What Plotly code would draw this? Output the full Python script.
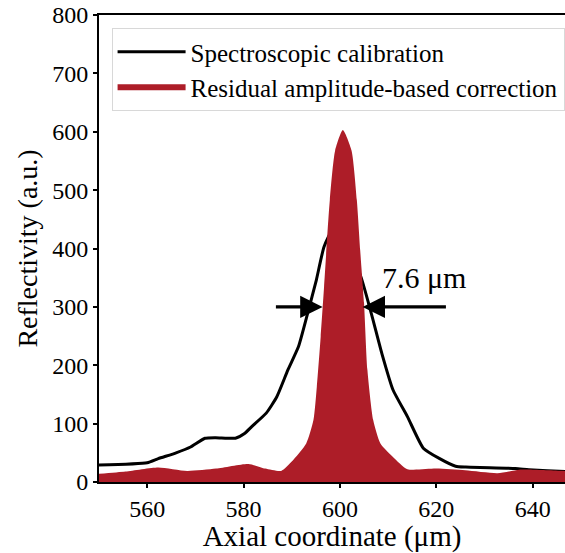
import plotly.graph_objects as go

# Spectroscopic calibration (black line)
calib_x = [550, 560, 562.3, 566, 569, 572, 574.2, 578.3, 580.2, 581.7, 584.7, 586.9, 589.2,
           591.4, 593.3, 595.1, 596.7, 598.6, 601.2, 604.2, 606.5, 608.7, 611, 614, 617.3,
           620.7, 624, 626.1, 636.4, 639.2, 646.8, 650]
calib_y = [29, 33, 40, 50, 60, 75, 76, 75, 83, 95, 118, 146, 192,
           232, 289, 346, 403, 433, 403, 355, 289, 220, 158, 112, 58,
           40, 27, 25.5, 23, 21, 18, 17]

# Residual amplitude-based correction (red filled)
resid_x = [550, 555.5, 562.3, 568.3, 574.3, 581, 584.5, 587.8, 590, 593, 594.5, 595.2, 596,
           596.7, 597.9, 599, 600.6, 602.4, 603.5, 604.2, 605, 605.7, 606.9, 608.4, 611, 614,
           620, 626, 632.7, 637.2, 640, 646.8, 650]
resid_y = [14, 18, 25, 19, 23, 31, 23, 19, 35, 66, 106, 163, 249,
           334, 483, 568, 603, 568, 483, 397, 306, 192, 106, 66, 43, 22,
           23, 20, 15, 21, 21, 19, 18]

x_ticks = [560, 580, 600, 620, 640]
y_ticks = [0, 100, 200, 300, 400, 500, 600, 700, 800]

FONT = "Liberation Serif"
RED = "#ad1d28"

fig = go.Figure()
fig.add_trace(go.Scatter(x=calib_x, y=calib_y, mode="lines",
                         line=dict(color="black", width=3, shape="spline", smoothing=0.5),
                         name="Spectroscopic calibration"))
fig.add_trace(go.Scatter(x=resid_x, y=resid_y, mode="none", fill="tozeroy",
                         fillcolor=RED, line=dict(shape="spline", smoothing=0.6),
                         name="Residual amplitude-based correction"))

# FWHM arrows
fig.add_annotation(x=596.4, y=300, ax=586.4, ay=300, xref="x", yref="y", axref="x", ayref="y",
                   showarrow=True, arrowhead=2, arrowsize=1.4, arrowwidth=3.2, arrowcolor="black", text="")
fig.add_annotation(x=604.7, y=300, ax=622.3, ay=300, xref="x", yref="y", axref="x", ayref="y",
                   showarrow=True, arrowhead=2, arrowsize=1.4, arrowwidth=3.2, arrowcolor="black", text="")
fig.add_annotation(x=617.5, y=351, xref="x", yref="y", text="7.6 μm", showarrow=False,
                   font=dict(family=FONT, size=30, color="black"))

fig.update_layout(
    width=565, height=553,
    margin=dict(l=99, r=0, t=15, b=71),
    plot_bgcolor="white", paper_bgcolor="white",
    font=dict(family=FONT, size=24, color="black"),
    showlegend=True,
    legend=dict(x=0.027, y=0.972, xanchor="left", yanchor="top",
                bgcolor="rgba(255,255,255,0.9)", bordercolor="#d8d8d8", borderwidth=1,
                font=dict(family=FONT, size=25), traceorder="normal",
                itemwidth=68, tracegroupgap=2),
    xaxis=dict(range=[550, 646.7], tickvals=x_ticks, ticktext=[str(v) for v in x_ticks],
               showgrid=False, zeroline=False, showline=True, linecolor="black", linewidth=2,
               mirror=True, ticks="outside", ticklen=4, tickwidth=1.5, tickcolor="black",
               tickfont=dict(family=FONT, size=24),
               title=dict(text="Axial coordinate (μm)", font=dict(family=FONT, size=29), standoff=6)),
    yaxis=dict(range=[0, 800], tickvals=y_ticks, ticktext=[str(v) for v in y_ticks],
               showgrid=False, zeroline=False, showline=True, linecolor="black", linewidth=2,
               ticks="outside", ticklen=4, tickwidth=1.5, tickcolor="black",
               tickfont=dict(family=FONT, size=24),
               title=dict(text="Reflectivity (a.u.)", font=dict(family=FONT, size=28), standoff=6)),
)

fig.write_html("out.html", config={"displayModeBar": False},
               post_script="document.body.style.margin='0';")
